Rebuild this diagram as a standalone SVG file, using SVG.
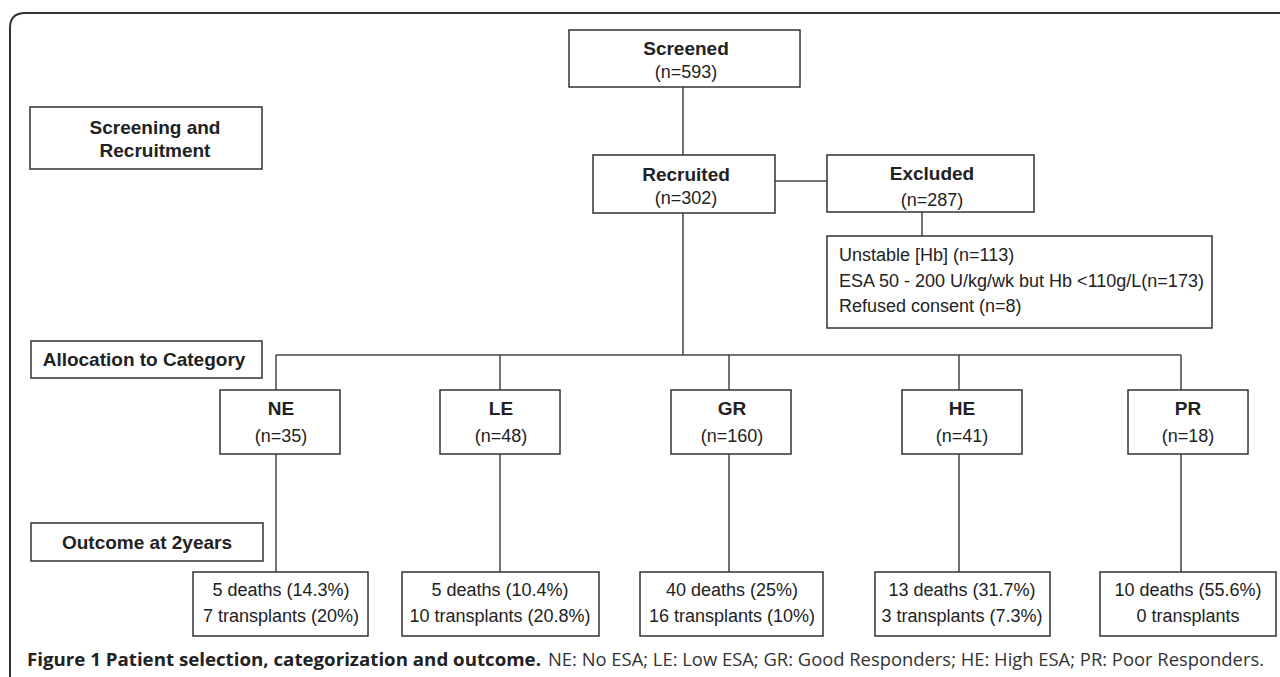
<svg xmlns="http://www.w3.org/2000/svg" width="1280" height="677" viewBox="0 0 1280 677">
<style>
.box{fill:#fff;stroke:#333;stroke-width:1.5}
.ln{stroke:#444;stroke-width:1.5;fill:none}
.b{font-family:"Liberation Sans",Arial,sans-serif;font-weight:bold;font-size:19px;fill:#222;text-anchor:middle}
.r{font-family:"Liberation Sans",Arial,sans-serif;font-size:18px;fill:#222;text-anchor:middle}
.l{font-family:"Liberation Sans",Arial,sans-serif;font-size:18px;fill:#222}
.cb{font-family:"Open Sans","Noto Sans",sans-serif;font-weight:bold;font-size:18px;fill:#222}
.cr{font-family:"Open Sans","Noto Sans",sans-serif;font-size:18px;fill:#333}
</style>
<rect width="1280" height="677" fill="#fff"/>
<path d="M10,677 V28 Q10,13 25,13 H1280" fill="none" stroke="#333" stroke-width="2"/>
<g id="connectors">
<line class="ln" x1="683" y1="87" x2="683" y2="155"/>
<line class="ln" x1="775" y1="181" x2="827" y2="181"/>
<line class="ln" x1="922" y1="212" x2="922" y2="236"/>
<line class="ln" x1="683" y1="213" x2="683" y2="355"/>
<line class="ln" x1="276" y1="355" x2="1181" y2="355"/>
<line class="ln" x1="276" y1="355" x2="276" y2="390"/>
<line class="ln" x1="500" y1="355" x2="500" y2="390"/>
<line class="ln" x1="729" y1="355" x2="729" y2="390"/>
<line class="ln" x1="959" y1="355" x2="959" y2="390"/>
<line class="ln" x1="1181" y1="355" x2="1181" y2="390"/>
<line class="ln" x1="276" y1="454" x2="276" y2="572"/>
<line class="ln" x1="500" y1="454" x2="500" y2="572"/>
<line class="ln" x1="729" y1="454" x2="729" y2="572"/>
<line class="ln" x1="959" y1="454" x2="959" y2="572"/>
<line class="ln" x1="1181" y1="454" x2="1181" y2="572"/>
</g>
<g id="label-screening">
<rect class="box" x="30" y="107" width="232" height="62"/>
<text class="b" x="155" y="134">Screening and</text>
<text class="b" x="155" y="157">Recruitment</text>
</g>
<g id="label-allocation">
<rect class="box" x="31" y="341" width="231" height="37"/>
<text class="b" x="144" y="366">Allocation to Category</text>
</g>
<g id="label-outcome">
<rect class="box" x="31" y="523" width="232" height="38"/>
<text class="b" x="147" y="549">Outcome at 2years</text>
</g>
<g id="screened">
<rect class="box" x="569" y="30" width="231" height="57"/>
<text class="b" x="686" y="55">Screened</text>
<text class="r" x="686" y="78">(n=593)</text>
</g>
<g id="recruited">
<rect class="box" x="593" y="155" width="182" height="58"/>
<text class="b" x="686" y="181">Recruited</text>
<text class="r" x="686" y="204">(n=302)</text>
</g>
<g id="excluded">
<rect class="box" x="827" y="155" width="207" height="57"/>
<text class="b" x="932" y="180">Excluded</text>
<text class="r" x="932" y="206">(n=287)</text>
</g>
<g id="exclusion-reasons">
<rect class="box" x="827" y="236" width="385" height="92"/>
<text class="l" x="839" y="261">Unstable [Hb] (n=113)</text>
<text class="l" x="839" y="287">ESA 50 - 200 U/kg/wk but Hb &lt;110g/L(n=173)</text>
<text class="l" x="839" y="312">Refused consent (n=8)</text>
</g>
<g id="ne">
<rect class="box" x="220" y="390" width="120" height="64"/>
<text class="b" x="281" y="415">NE</text>
<text class="r" x="281" y="442">(n=35)</text>
</g>
<g id="le">
<rect class="box" x="440" y="390" width="120" height="64"/>
<text class="b" x="501" y="415">LE</text>
<text class="r" x="501" y="442">(n=48)</text>
</g>
<g id="gr">
<rect class="box" x="671" y="390" width="120" height="64"/>
<text class="b" x="732" y="415">GR</text>
<text class="r" x="732" y="442">(n=160)</text>
</g>
<g id="he">
<rect class="box" x="902" y="390" width="120" height="64"/>
<text class="b" x="962" y="415">HE</text>
<text class="r" x="962" y="442">(n=41)</text>
</g>
<g id="pr">
<rect class="box" x="1128" y="390" width="120" height="64"/>
<text class="b" x="1188" y="415">PR</text>
<text class="r" x="1188" y="442">(n=18)</text>
</g>
<g id="ne-outcome">
<rect class="box" x="193" y="572" width="175" height="64"/>
<text class="r" x="281" y="596">5 deaths (14.3%)</text>
<text class="r" x="281" y="622">7 transplants (20%)</text>
</g>
<g id="le-outcome">
<rect class="box" x="402" y="572" width="197" height="64"/>
<text class="r" x="500" y="596">5 deaths (10.4%)</text>
<text class="r" x="500" y="622">10 transplants (20.8%)</text>
</g>
<g id="gr-outcome">
<rect class="box" x="640" y="572" width="183" height="64"/>
<text class="r" x="732" y="596">40 deaths (25%)</text>
<text class="r" x="732" y="622">16 transplants (10%)</text>
</g>
<g id="he-outcome">
<rect class="box" x="875" y="572" width="175" height="64"/>
<text class="r" x="962" y="596">13 deaths (31.7%)</text>
<text class="r" x="962" y="622">3 transplants (7.3%)</text>
</g>
<g id="pr-outcome">
<rect class="box" x="1100" y="572" width="176" height="64"/>
<text class="r" x="1188" y="596">10 deaths (55.6%)</text>
<text class="r" x="1188" y="622">0 transplants</text>
</g>
<g id="caption">
<text class="cb" x="27" y="666" textLength="514" lengthAdjust="spacingAndGlyphs">Figure 1 Patient selection, categorization and outcome.</text>
<text class="cr" x="548" y="666" textLength="716" lengthAdjust="spacingAndGlyphs">NE: No ESA; LE: Low ESA; GR: Good Responders; HE: High ESA; PR: Poor Responders.</text>
</g>
</svg>
